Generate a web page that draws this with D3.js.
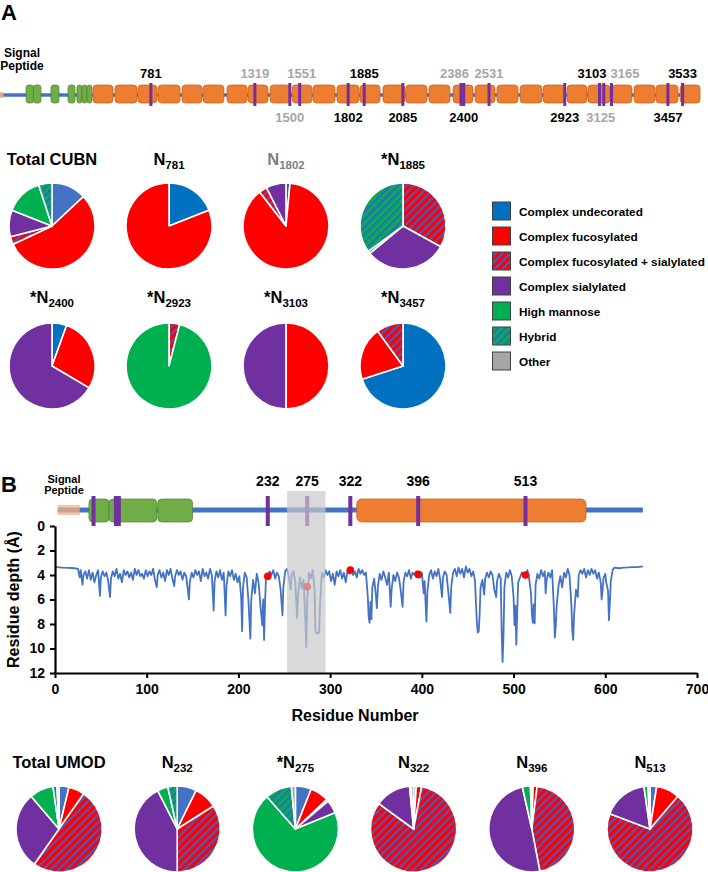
<!DOCTYPE html>
<html><head><meta charset="utf-8">
<script src="https://cdn.jsdelivr.net/npm/d3@7"></script>
<style>body{margin:0;background:#fff}svg{display:block}</style>
</head><body>
<svg id="fig" width="708" height="872"></svg>
<script>
// ---------------- DATA ----------------
const glycanCategories = ["Complex undecorated","Complex fucosylated","Complex fucosylated + sialylated","Complex sialylated","High mannose","Hybrid","Other"];

// CUBN domain architecture (residues)
const cubnLength = 3623;
const cubnSignal = [1, 23];
const cubnEgfDomains = [[135,173],[173,212],[264,305],[352,388],[398,424],[424,450],[450,476]];
const cubnCubDomains = [[481,585],[595,709],[714,813],[818,932],[942,1046],[1051,1159],[1175,1279],[1284,1387],[1398,1501],[1512,1615],[1620,1734],[1744,1858],[1863,1967],[1982,2096],[2100,2210],[2220,2329],[2345,2448],[2459,2562],[2572,2681],[2692,2805],[2811,2924],[2935,3038],[3043,3157],[3168,3271],[3282,3390],[3395,3509],[3520,3623]];
const cubnSites = [781,1319,1500,1551,1802,1885,2085,2386,2400,2531,2923,3103,3125,3165,3457,3533];
const cubnSitesUnobserved = [1319,1500,1551,2386,2531,3125,3165];
const cubnSitesBelow = [1500,1802,2085,2400,2923,3125,3457];

// CUBN pies (values in glycanCategories order, %)
const cubnPieTitles = ["Total CUBN","N781","N1802","*N1885","*N2400","*N2923","*N3103","*N3457"];
const cubnPieValues = [
  [13,55,3,10,14,5,0],
  [19,81,0,0,0,0,0],
  [1.5,88,3,7.5,0,0,0],
  [0,0,33,31,1,35,0],
  [5.5,28,0,66.5,0,0,0],
  [0,0,4,0,96,0,0],
  [0,50,0,50,0,0,0],
  [70,20,10,0,0,0,0]
];
const cubnPieGrayTitles = ["N1802"];

// UMOD domain architecture (residues)
const umodLength = 641;
const umodSignal = [3, 27];
const umodEgfDomains = [[37,59],[59,111],[112,150]];
const umodZpDomain = [329,579];
const umodSites = [42,68,232,275,322,396,513];
const umodSitesLabelled = [232,275,322,396,513];
const umodShaded = [253,295];

// Residue depth profile [residue, depth Å]
const depthProfile = [
[1,3.35],[8,3.4],[15,3.42],[22,3.45],[25,3.5],[27,4.2],[28,3.6],[30,4.8],[31,4.0],[33,3.7],[35,4.3],[37,3.6],[39,4.4],[41,3.8],[43,4.6],[45,4.0],[47,3.6],[49,5.7],[50,4.2],[52,3.7],[54,4.1],[56,3.8],[58,4.5],[60,5.8],[61,4.3],[63,3.7],
[65,4.1],[67,3.5],[69,4.3],[71,3.9],[73,4.6],[75,3.6],[77,4.0],[79,3.7],[81,4.2],[83,3.8],[85,4.4],[87,3.5],[89,4.0],[91,3.6],[93,4.1],[95,3.9],[97,4.3],[99,3.6],
[101,4.1],[103,3.7],[105,4.0],[107,3.5],[109,4.4],[111,5.0],[112,4.0],[114,3.6],[116,4.2],[118,3.8],[120,4.5],[122,3.6],[124,4.0],[126,3.5],[128,4.3],[130,4.9],[131,4.1],[133,3.6],[135,4.0],[137,3.7],[139,4.4],[141,3.8],[143,4.1],[145,5.3],[146,6.0],[147,4.6],[149,3.8],
[151,4.2],[153,3.6],[155,4.0],[157,3.7],[159,4.5],[161,3.5],[163,4.1],[165,3.8],[167,4.3],[169,3.5],[171,4.0],[173,6.9],[174,4.5],[176,3.7],[178,4.2],[180,3.6],[182,4.4],[184,3.8],[186,7.3],[187,4.9],[189,3.7],[191,4.1],[193,3.6],[195,4.4],[197,3.9],[199,4.6],
[201,4.1],[203,5.8],[204,8.6],[205,5.0],[207,3.8],[209,4.2],[211,6.2],[213,9.2],[214,6.0],[216,4.4],[218,5.5],[220,3.9],[222,4.6],[224,6.5],[226,8.1],[227,6.0],[228,9.3],[229,6.3],[230,4.3],[232,4.1],[234,3.7],[236,4.0],[238,3.6],[240,4.3],[242,3.8],[244,4.1],[246,5.2],[248,7.3],[249,5.0],[251,3.7],
[253,3.5],[255,4.2],[257,5.2],[258,4.0],[260,3.7],[262,4.6],[264,7.5],[265,5.6],[267,4.2],[269,5.1],[271,4.4],[273,7.8],[274,9.9],[275,6.0],[277,3.8],[279,4.3],[281,3.6],[283,5.2],[284,8.6],[286,8.8],[288,8.7],[289,6.4],[291,3.8],[293,4.2],[295,3.6],
[297,4.0],[299,3.7],[301,4.5],[303,3.9],[305,4.8],[307,3.7],[309,4.1],[311,3.6],[313,4.3],[315,3.8],[317,4.6],[319,3.6],[321,3.9],[323,3.6],[325,4.0],[327,3.7],[329,4.2],[331,3.5],[333,3.9],[335,3.6],[337,4.0],[339,3.8],[341,5.7],[342,7.4],[343,7.9],[344,6.2],[345,7.6],[346,5.0],
[348,4.3],[350,5.8],[351,6.7],[352,5.0],[354,3.9],[356,4.4],[358,3.7],[360,4.2],[362,4.8],[364,3.8],[366,6.6],[367,5.2],[369,4.0],[371,4.5],[373,3.8],[375,4.2],[377,5.3],[379,6.6],[380,4.6],[382,3.8],[384,4.1],[386,3.6],[388,4.3],[390,3.8],[392,4.0],[394,3.7],[396,3.95],[398,4.2],[400,3.8],
[402,5.5],[403,4.5],[405,7.8],[406,5.4],[408,4.0],[410,3.6],[412,4.3],[414,3.7],[416,4.1],[418,3.5],[420,4.4],[422,5.8],[423,4.2],[425,3.7],[427,4.0],[429,5.5],[431,7.1],[432,5.0],[434,3.8],[436,3.5],[438,4.1],[440,3.4],[442,3.9],[444,3.5],[446,4.2],[448,3.3],[450,3.8],[452,3.5],[454,4.1],[456,3.7],[458,4.5],
[459,6.3],[460,7.9],[461,8.7],[462,8.6],[463,7.2],[464,5.0],[466,4.4],[468,5.6],[469,4.3],[471,3.8],[473,4.2],[475,3.7],[477,4.0],[479,5.2],[481,5.8],[482,4.5],[484,3.9],[486,4.3],[487,8.5],[488,11.1],[489,9.0],[490,5.0],[492,3.8],[494,4.2],[496,3.6],[498,4.1],[500,5.8],[501,8.1],[502,6.5],[503,9.7],[504,7.0],[505,4.6],[507,4.2],[509,3.8],[511,4.1],[513,4.0],[515,3.6],[517,4.3],[519,5.5],[520,7.2],[521,7.9],[522,6.4],[523,7.95],[524,4.8],
[526,3.9],[528,4.3],[530,3.6],[532,4.1],[534,3.7],[535,5.5],[536,4.4],[538,3.8],[540,4.2],[542,3.6],[544,6.8],[545,9.1],[546,8.2],[547,6.5],[549,4.9],[551,4.1],[553,5.0],[555,3.8],[557,4.2],[559,3.5],[561,4.0],[563,6.4],[564,8.5],[565,9.3],[566,7.2],[568,5.2],[570,5.8],[571,4.0],[573,3.6],[575,3.9],[577,3.5],[579,4.2],[581,3.6],[583,4.0],[585,3.5],[587,3.9],[589,3.6],[591,4.3],[593,3.8],[595,4.6],[596,6.0],[597,5.3],[598,4.3],[600,3.9],
[601,4.6],[603,5.3],[604,7.7],[605,6.3],[606,4.5],[608,3.6],[610,3.4],[615,3.45],[620,3.4],[625,3.38],[630,3.35],[635,3.35],[641,3.3]
];
const glycoSiteResidues = [232,275,322,396,513];
const glycoSiteDepths = [4.1,4.95,3.6,3.95,4.0];

const xTicks = [0,100,200,300,400,500,600,700];
const yTicks = [0,2,4,6,8,10,12];

// UMOD pies
const umodPieTitles = ["Total UMOD","N232","*N275","N322","N396","N513"];
const umodPieValues = [
  [3.75,6,50,29,9,1.5,0.75],
  [7.3,8.7,34,42.5,4,3.5,0],
  [6,7,0.8,5,69.7,10,1.5],
  [1,2,82,13.5,0.5,0,1],
  [0.5,1.5,45,49.5,3,0,0.5],
  [2.5,8.75,69.5,17,1.5,0,0.75]
];

// ---------------- STYLE ----------------
const FONT = '"Liberation Sans", Arial, sans-serif';
const C = {blue:"#0070C0", blueLight:"#4472C4", red:"#FF0000", purple:"#7030A0", green:"#00B050", gray:"#A6A6A6",
  stripe:"#3B5FCF", line:"#4472C4", orange:"#ED7D31", orangeStroke:"#C55A11", egf:"#70AD47", egfStroke:"#507E32", signal:"#F4B183"};

const svg = d3.select("#fig").style("font-family", FONT);
const defs = svg.append("defs");
function hatch(id, bg){
  const p = defs.append("pattern").attr("id",id).attr("patternUnits","userSpaceOnUse")
    .attr("width",5.5).attr("height",5.5).attr("patternTransform","rotate(45)");
  p.append("rect").attr("width",5.5).attr("height",5.5).attr("fill",bg);
  p.append("rect").attr("x",0).attr("width",2).attr("height",5.5).attr("fill",C.stripe);
}
hatch("hFS", C.red); hatch("hHy", C.green);
function catFill(i, alt){
  return [alt?C.blueLight:C.blue, C.red, "url(#hFS)", C.purple, C.green, "url(#hHy)", C.gray][i];
}

// ---------------- PANEL A ----------------
svg.append("text").attr("x",1).attr("y",20).attr("font-size",22).attr("font-weight","bold").text("A");
const sp = svg.append("text").attr("font-size",12).attr("font-weight","bold").attr("text-anchor","middle");
sp.append("tspan").attr("x",22).attr("y",57).text("Signal");
sp.append("tspan").attr("x",22).attr("y",70).text("Peptide");

const xA = d3.scaleLinear().domain([0,cubnLength]).range([0,700]);
const gA = svg.append("g");
const barY = 95;
gA.append("line").attr("x1",xA(0)).attr("x2",xA(cubnLength)).attr("y1",barY).attr("y2",barY).attr("stroke",C.line).attr("stroke-width",3.5);
gA.append("rect").attr("x",xA(cubnSignal[0])-1).attr("width",xA(cubnSignal[1])-xA(cubnSignal[0])).attr("y",barY-3).attr("height",6).attr("fill",C.signal).attr("opacity",0.85);
gA.selectAll(".egf").data(cubnEgfDomains).join("rect").attr("x",d=>xA(d[0])).attr("width",d=>xA(d[1])-xA(d[0])).attr("y",85).attr("height",18).attr("rx",2.5)
  .attr("fill",C.egf).attr("stroke",C.egfStroke).attr("stroke-width",0.7);
gA.selectAll(".cub").data(cubnCubDomains).join("rect").attr("x",d=>xA(d[0])).attr("width",d=>xA(d[1])-xA(d[0])).attr("y",85).attr("height",18).attr("rx",3.5)
  .attr("fill",C.orange).attr("stroke",C.orangeStroke).attr("stroke-width",0.7);
gA.selectAll(".site").data(cubnSites).join("rect").attr("x",d=>xA(d)-1.5).attr("width",3).attr("y",83).attr("height",23).attr("fill",C.purple);
const anchorA = {2386:["end",8],3103:["end",7],3165:["start",-1],1551:["middle",2],3125:["middle",-3]};
gA.selectAll(".slab").data(cubnSites).join("text")
  .attr("x",d=>xA(d)+(anchorA[d]?anchorA[d][1]:0))
  .attr("y",d=>cubnSitesBelow.includes(d)?122:78)
  .attr("text-anchor",d=>anchorA[d]?anchorA[d][0]:"middle")
  .attr("font-size",13).attr("font-weight","bold")
  .attr("fill",d=>cubnSitesUnobserved.includes(d)?"#A6A6A6":"#000")
  .text(d=>d);

function pieTitle(g, title, x, y, color){
  const t = g.append("text").attr("x",x).attr("y",y).attr("text-anchor","middle").attr("font-weight","bold").attr("font-size",16.5).attr("fill",color);
  if(title.startsWith("Total")){ t.text(title); return; }
  const m = title.match(/^(\*?N)(\d+)$/);
  t.append("tspan").text(m[1]);
  t.append("tspan").attr("font-size",11.5).attr("dy",4).text(m[2]);
}
function drawPie(g, values, cx, cy, r, alt){
  const arcs = d3.pie().sort(null).value(d=>d)(values);
  const arc = d3.arc().innerRadius(0).outerRadius(r);
  g.append("g").attr("transform",`translate(${cx},${cy})`).selectAll("path")
    .data(arcs.filter(d=>d.value>0)).join("path").attr("d",arc)
    .attr("fill",d=>catFill(d.index, alt)).attr("stroke","#fff").attr("stroke-width",1.6).attr("stroke-linejoin","round");
}
const pieXA = d3.scalePoint().domain(d3.range(4)).range([52,403]);
cubnPieTitles.forEach((t,i)=>{
  const col = i%4, row = Math.floor(i/4);
  const cx = pieXA(col), cy = row? 366 : 226;
  pieTitle(svg, t, cx, row? 303 : 165, cubnPieGrayTitles.includes(t)?"#7F7F7F":"#000");
  drawPie(svg, cubnPieValues[i], cx, cy, 43, i===0);
});

// legend
const lg = svg.append("g");
glycanCategories.forEach((c,i)=>{
  const y = 202 + i*25;
  lg.append("rect").attr("x",492.5).attr("y",y).attr("width",18).attr("height",18).attr("fill",catFill(i,false)).attr("stroke","#404040").attr("stroke-width",1);
  lg.append("text").attr("x",519).attr("y",y+13.5).attr("font-size",11.8).attr("font-weight","bold").text(c);
});

// ---------------- PANEL B ----------------
svg.append("text").attr("x",1).attr("y",492).attr("font-size",22).attr("font-weight","bold").text("B");
const sp2 = svg.append("text").attr("font-size",11).attr("font-weight","bold").attr("text-anchor","middle");
sp2.append("tspan").attr("x",64).attr("y",483).text("Signal");
sp2.append("tspan").attr("x",64).attr("y",494).text("Peptide");

const x = d3.scaleLinear().domain([0,700]).range([55,697]);
const y = d3.scaleLinear().domain([0,12]).range([526,673]);
const gB = svg.append("g");
const bY = 510;
gB.append("line").attr("x1",x(umodSignal[0])).attr("x2",x(umodLength)).attr("y1",bY).attr("y2",bY).attr("stroke",C.line).attr("stroke-width",5);
gB.append("rect").attr("x",x(umodSignal[0])).attr("width",x(umodSignal[1])-x(umodSignal[0])).attr("y",bY-5).attr("height",10).attr("fill",C.signal).attr("opacity",0.75);
gB.selectAll(".egf").data(umodEgfDomains).join("rect").attr("x",d=>x(d[0])).attr("width",d=>x(d[1])-x(d[0])).attr("y",499).attr("height",23).attr("rx",4)
  .attr("fill",C.egf).attr("stroke",C.egfStroke).attr("stroke-width",0.7);
gB.append("rect").attr("x",x(umodZpDomain[0])).attr("width",x(umodZpDomain[1])-x(umodZpDomain[0])).attr("y",499).attr("height",23).attr("rx",5)
  .attr("fill",C.orange).attr("stroke",C.orangeStroke).attr("stroke-width",0.7);
gB.selectAll(".site").data(umodSites).join("rect").attr("x",d=>x(d)-(d===68?3.5:2)).attr("width",d=>d===68?7:4).attr("y",496).attr("height",30).attr("fill",C.purple);
gB.selectAll(".slab").data(umodSitesLabelled).join("text").attr("x",d=>x(d)).attr("y",486).attr("text-anchor","middle")
  .attr("font-size",14).attr("font-weight","bold").text(d=>d);

// line chart
const line = d3.line().x(d=>x(d[0])).y(d=>y(d[1]));
gB.append("path").datum(depthProfile).attr("d",line).attr("fill","none").attr("stroke",C.line).attr("stroke-width",1.8).attr("stroke-linejoin","round");
gB.selectAll(".gdot").data(glycoSiteResidues).join("circle").attr("cx",d=>x(d)).attr("cy",(d,i)=>y(glycoSiteDepths[i])).attr("r",3.8).attr("fill",C.red);
// shaded region
gB.append("rect").attr("x",x(umodShaded[0])).attr("width",x(umodShaded[1])-x(umodShaded[0])).attr("y",491).attr("height",y(12)-491)
  .attr("fill","#C8C8C8").attr("opacity",0.69);

const yAxis = d3.axisLeft(y).tickValues(yTicks).tickSize(5).tickSizeOuter(0).tickPadding(5);
const xAxis = d3.axisBottom(x).tickValues(xTicks).tickSize(5).tickSizeOuter(0).tickPadding(6);
const ya = svg.append("g").attr("transform",`translate(${x(0)},0)`).call(yAxis);
const xa = svg.append("g").attr("transform",`translate(0,${y(12)})`).call(xAxis);
[ya,xa].forEach(a=>{
  a.select(".domain").attr("stroke","#000").attr("stroke-width",2.2);
  a.selectAll(".tick line").attr("stroke","#000").attr("stroke-width",2);
  a.selectAll(".tick text").attr("font-size",14).attr("font-weight","bold").attr("font-family",FONT).attr("fill","#000");
});
svg.append("text").attr("transform",`translate(19,${(y(0)+y(12))/2}) rotate(-90)`).attr("text-anchor","middle")
  .attr("font-size",16).attr("font-weight","bold").text("Residue depth (Å)");
svg.append("text").attr("x",355).attr("y",721).attr("text-anchor","middle").attr("font-size",16).attr("font-weight","bold").text("Residue Number");

// UMOD pies
const pieXB = d3.scalePoint().domain(d3.range(6)).range([59,650]);
umodPieTitles.forEach((t,i)=>{
  pieTitle(svg, t, pieXB(i), 768, "#000");
  drawPie(svg, umodPieValues[i], pieXB(i), 829, 43, true);
});
</script>
</body></html>
